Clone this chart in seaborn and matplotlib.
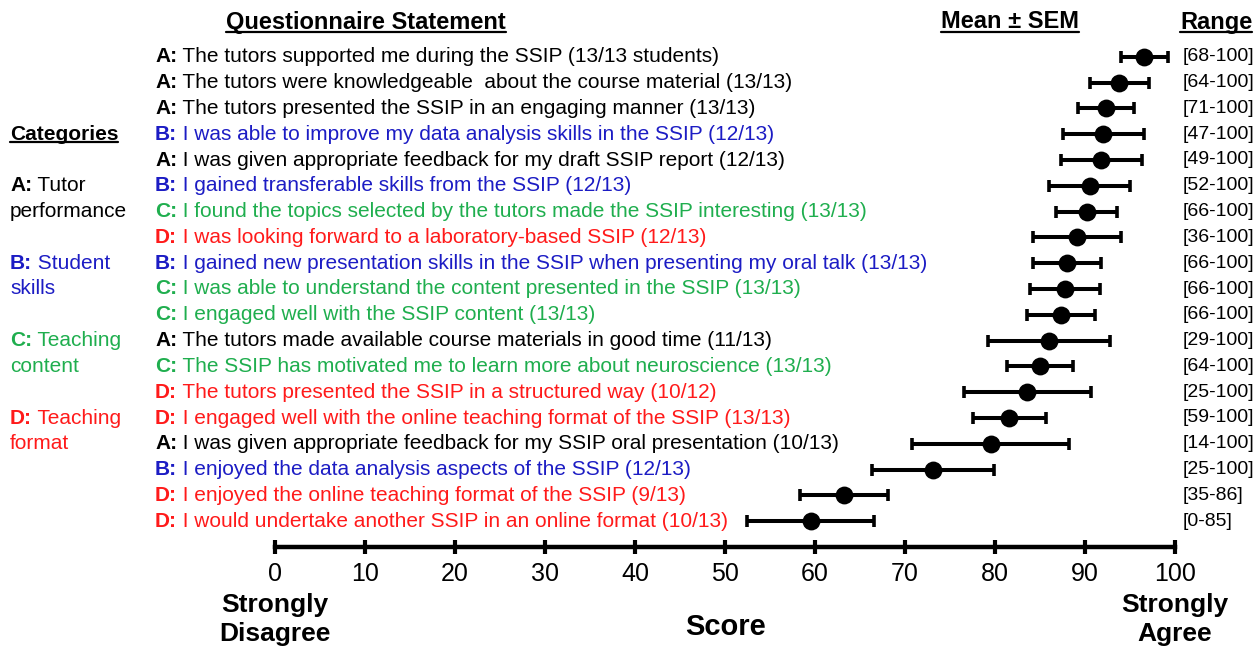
import matplotlib
matplotlib.use("Agg")
import numpy as np
import pandas as pd
import matplotlib.pyplot as plt
import seaborn as sns
from matplotlib.transforms import blended_transform_factory
from matplotlib.lines import Line2D

# ---- data ----
categories = ["A", "A", "A", "B", "A", "B", "C", "D", "B", "C",
              "C", "A", "C", "D", "D", "A", "B", "D", "D"]
statements = [
    "The tutors supported me during the SSIP (13/13 students)",
    "The tutors were knowledgeable  about the course material (13/13)",
    "The tutors presented the SSIP in an engaging manner (13/13)",
    "I was able to improve my data analysis skills in the SSIP (12/13)",
    "I was given appropriate feedback for my draft SSIP report (12/13)",
    "I gained transferable skills from the SSIP (12/13)",
    "I found the topics selected by the tutors made the SSIP interesting (13/13)",
    "I was looking forward to a laboratory-based SSIP (12/13)",
    "I gained new presentation skills in the SSIP when presenting my oral talk (13/13)",
    "I was able to understand the content presented in the SSIP (13/13)",
    "I engaged well with the SSIP content (13/13)",
    "The tutors made available course materials in good time (11/13)",
    "The SSIP has motivated me to learn more about neuroscience (13/13)",
    "The tutors presented the SSIP in a structured way (10/12)",
    "I engaged well with the online teaching format of the SSIP (13/13)",
    "I was given appropriate feedback for my SSIP oral presentation (10/13)",
    "I enjoyed the data analysis aspects of the SSIP (12/13)",
    "I enjoyed the online teaching format of the SSIP (9/13)",
    "I would undertake another SSIP in an online format (10/13)",
]
means = [96.6, 93.8, 92.3, 92.0, 91.8, 90.5, 90.2, 89.1, 88.0, 87.8,
         87.3, 86.0, 85.0, 83.6, 81.6, 79.5, 73.1, 63.2, 59.5]
sems = [2.6, 3.3, 3.1, 4.5, 4.5, 4.5, 3.4, 4.9, 3.8, 3.9,
        3.8, 6.8, 3.7, 7.1, 4.1, 8.7, 6.8, 4.9, 7.1]
ranges = ["[68-100]", "[64-100]", "[71-100]", "[47-100]", "[49-100]",
          "[52-100]", "[66-100]", "[36-100]", "[66-100]", "[66-100]",
          "[66-100]", "[29-100]", "[64-100]", "[25-100]", "[59-100]",
          "[14-100]", "[25-100]", "[35-86]", "[0-85]"]
legend_items = [("A:", "Tutor", 6), ("", "performance", 7),
                ("B:", "Student", 9), ("", "skills", 10),
                ("C:", "Teaching", 12), ("", "content", 13),
                ("D:", "Teaching", 15), ("", "format", 16)]
legend_colors = ["A", "A", "B", "B", "C", "C", "D", "D"]

colors = {"A": "black", "B": "#1c1cc4", "C": "#1fae4e", "D": "#ff1a1a"}

W, H = 1255, 647
sns.set_style("white")
plt.rcParams["font.family"] = ["Liberation Sans", "DejaVu Sans"]
plt.rcParams["text.color"] = "black"
plt.rcParams["axes.edgecolor"] = "black"
plt.rcParams["xtick.color"] = "black"

fig = plt.figure(figsize=(W / 100, H / 100), dpi=100)
ax = fig.add_axes([275 / W, 1 - 547 / H, 900 / W, (547 - 31) / H])
ax.patch.set_alpha(0)

df = pd.DataFrame({"row": np.arange(1, len(means) + 1), "mean": means, "sem": sems})
ax.errorbar(df["mean"], df["row"], xerr=df["sem"], fmt="none", ecolor="black",
            elinewidth=2.9, capsize=4.5, capthick=2.6, clip_on=False)
sns.scatterplot(data=df, x="mean", y="row", color="black", s=165, linewidth=0,
                ax=ax, zorder=3, clip_on=False)

ax.set_xlim(0, 100)
ax.set_ylim(20, 0)
sns.despine(ax=ax, left=True)
ax.spines["bottom"].set_linewidth(3.2)
ax.set_yticks([])
ax.set_xticks(range(0, 101, 10))
# seaborn's white style switches the tick marks off, turn them back on
ax.tick_params(axis="x", bottom=True, direction="inout", length=10, width=3,
               pad=6, labelsize=18)
ax.set_xlabel("")
ax.set_ylabel("")

renderer = fig.canvas.get_renderer()
tr = blended_transform_factory(fig.transFigure, ax.transData)


def two_part(xpx, y, prefix, rest, color, size=15):
    x = xpx / W
    if prefix:
        t = ax.text(x, y, prefix, transform=tr, color=color, fontsize=size,
                    fontweight="bold", va="center", ha="left")
        x = t.get_window_extent(renderer).x1 / W
        rest = " " + rest
    ax.text(x, y, rest, transform=tr, color=color, fontsize=size, va="center", ha="left")


for i, (c, s) in enumerate(zip(categories, statements)):
    two_part(155, i + 1, c + ":", s, colors[c])
    ax.text(1183 / W, i + 1, ranges[i], transform=tr, fontsize=14, va="center", ha="left")

for (p, rest, row), col in zip(legend_items, legend_colors):
    two_part(10, row, p, rest, colors[col])


def underline(t):
    bb = t.get_window_extent(renderer)
    yline = (bb.y0 + 2) / H
    fig.add_artist(Line2D([bb.x0 / W, bb.x1 / W], [yline, yline], color="black", lw=1.6))


for xpx, s in [(366, "Questionnaire Statement"), (1010, "Mean \u00b1 SEM"), (1216, "Range")]:
    underline(fig.text(xpx / W, 1 - 22 / H, s, fontsize=17, fontweight="bold", ha="center", va="center"))
underline(ax.text(10 / W, 4, "Categories", transform=tr, fontsize=15, fontweight="bold",
                  ha="left", va="center"))

for xpx, words in [(275, ("Strongly", "Disagree")), (1175, ("Strongly", "Agree"))]:
    fig.text(xpx / W, 1 - 605 / H, words[0], fontsize=19, fontweight="bold", ha="center", va="center")
    fig.text(xpx / W, 1 - 634 / H, words[1], fontsize=19, fontweight="bold", ha="center", va="center")
fig.text(726 / W, 1 - 627 / H, "Score", fontsize=21, fontweight="bold", ha="center", va="center")

fig.savefig("out.png", dpi=100, facecolor="white")
